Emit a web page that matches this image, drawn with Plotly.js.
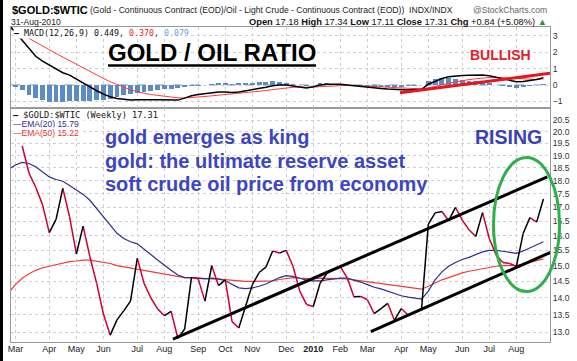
<!DOCTYPE html>
<html><head><meta charset="utf-8">
<script src="https://cdn.plot.ly/plotly-3.0.1.min.js"></script>
<style>
html,body{margin:0;padding:0;background:#fff;overflow:hidden;}
#chart{width:577px;height:361px;}
#lb{position:absolute;left:0;top:0;width:3px;height:361px;background:#000;}
</style>
</head><body><div id="chart"></div><div id="lb"></div>
<script>
// weekly bars (week of Monday)
const weeks = ['2009-02-23','2009-03-02','2009-03-09','2009-03-16','2009-03-23','2009-03-30','2009-04-06','2009-04-13','2009-04-20','2009-04-27',
'2009-05-04','2009-05-11','2009-05-18','2009-05-25','2009-06-01','2009-06-08','2009-06-15','2009-06-22','2009-06-29','2009-07-06',
'2009-07-13','2009-07-20','2009-07-27','2009-08-03','2009-08-10','2009-08-17','2009-08-24','2009-08-31','2009-09-07','2009-09-14',
'2009-09-21','2009-09-28','2009-10-05','2009-10-12','2009-10-19','2009-10-26','2009-11-02','2009-11-09','2009-11-16','2009-11-23',
'2009-11-30','2009-12-07','2009-12-14','2009-12-21','2009-12-28','2010-01-04','2010-01-11','2010-01-18','2010-01-25','2010-02-01',
'2010-02-08','2010-02-15','2010-02-22','2010-03-01','2010-03-08','2010-03-15','2010-03-22','2010-03-29','2010-04-05','2010-04-12',
'2010-04-19','2010-04-26','2010-05-03','2010-05-10','2010-05-17','2010-05-24','2010-05-31','2010-06-07','2010-06-14','2010-06-21',
'2010-06-28','2010-07-05','2010-07-12','2010-07-19','2010-07-26','2010-08-02','2010-08-09','2010-08-16','2010-08-23','2010-08-30'];

const ratio = [null,null,19.40,18.30,17.75,17.10,16.10,16.57,17.71,16.66,
15.38,16.33,15.29,14.44,13.52,12.92,13.35,13.61,13.90,15.24,
14.44,14.00,13.67,13.47,13.60,12.83,13.09,14.62,14.58,13.90,
15.00,14.37,14.55,13.30,13.12,13.75,14.40,14.78,14.95,15.48,
15.41,15.50,14.98,14.20,13.80,13.74,14.44,14.75,14.88,14.96,
14.62,14.03,14.04,13.94,13.53,13.68,13.83,13.34,13.68,13.49,
13.57,13.67,16.40,16.80,16.85,16.52,17.00,16.55,16.20,15.97,
16.81,15.90,15.35,15.10,15.07,14.98,16.07,16.63,16.47,17.31];

const ema20 = [18.45,18.62,18.72,18.68,18.55,18.35,18.15,18.05,17.98,17.82,
17.65,17.48,17.26,16.95,16.66,16.35,16.08,15.90,15.79,15.72,
15.55,15.36,15.18,15.00,14.85,14.70,14.62,14.62,14.60,14.58,
14.60,14.58,14.52,14.40,14.30,14.28,14.30,14.35,14.42,14.52,
14.62,14.68,14.66,14.60,14.54,14.52,14.52,14.55,14.58,14.60,
14.60,14.55,14.48,14.40,14.32,14.27,14.20,14.12,14.06,14.02,
13.98,13.96,14.20,14.55,14.80,14.98,15.10,15.20,15.27,15.35,
15.45,15.50,15.50,15.47,15.43,15.40,15.48,15.58,15.68,15.79];

const ema50 = [14.15,14.40,14.60,14.74,14.85,14.93,14.98,15.03,15.10,15.13,
15.15,15.18,15.18,15.15,15.12,15.07,15.00,14.96,14.93,14.90,
14.85,14.80,14.76,14.72,14.68,14.64,14.62,14.62,14.60,14.58,
14.58,14.57,14.55,14.52,14.50,14.50,14.50,14.50,14.50,14.52,
14.56,14.60,14.62,14.60,14.58,14.58,14.60,14.60,14.60,14.60,
14.58,14.55,14.52,14.48,14.45,14.42,14.40,14.37,14.34,14.30,
14.28,14.26,14.35,14.45,14.55,14.62,14.70,14.77,14.82,14.86,
14.92,14.96,14.98,15.00,15.01,15.00,15.05,15.11,15.16,15.22];

const macd = [3.70,3.20,2.72,2.20,1.75,1.45,1.20,1.00,0.75,0.60,
0.35,0.15,-0.10,-0.35,-0.55,-0.72,-0.82,-0.88,-0.92,-0.90,
-0.88,-0.90,-0.90,-0.92,-0.93,-0.92,-0.80,-0.66,-0.58,-0.52,
-0.46,-0.42,-0.42,-0.46,-0.42,-0.36,-0.30,-0.22,-0.14,-0.05,
0.00,0.00,-0.05,-0.12,-0.18,-0.10,0.00,0.05,0.05,0.04,
0.00,-0.05,-0.10,-0.14,-0.20,-0.22,-0.25,-0.28,-0.30,-0.30,
-0.28,-0.26,0.05,0.25,0.40,0.50,0.56,0.58,0.60,0.60,
0.61,0.56,0.46,0.36,0.27,0.20,0.22,0.28,0.34,0.449];

const signal = [3.50,3.25,3.02,2.85,2.60,2.38,2.15,1.92,1.70,1.47,
1.25,1.02,0.80,0.60,0.40,0.20,0.05,-0.12,-0.30,-0.42,
-0.50,-0.58,-0.64,-0.70,-0.74,-0.78,-0.79,-0.77,-0.73,-0.70,
-0.66,-0.62,-0.58,-0.56,-0.53,-0.49,-0.45,-0.40,-0.34,-0.28,
-0.22,-0.17,-0.14,-0.13,-0.14,-0.13,-0.10,-0.07,-0.04,-0.02,
-0.02,-0.03,-0.05,-0.07,-0.09,-0.12,-0.15,-0.17,-0.20,-0.22,
-0.23,-0.24,-0.18,-0.10,0.00,0.10,0.19,0.27,0.33,0.38,
0.43,0.46,0.46,0.44,0.41,0.37,0.34,0.33,0.34,0.370];

const hist = [null,-0.10,-0.30,-0.60,-0.81,-0.91,-1.06,-1.06,-1.02,-0.98,
-0.97,-0.97,-0.96,-0.93,-0.92,-0.85,-0.73,-0.62,-0.55,-0.47,
-0.42,-0.35,-0.30,-0.26,-0.22,-0.20,-0.15,-0.08,-0.03,0.03,
0.08,0.10,0.10,0.08,0.10,0.12,0.15,0.18,0.20,0.22,
0.20,0.15,0.08,0.01,-0.04,0.03,0.10,0.12,0.09,0.06,
0.02,-0.02,-0.05,-0.07,-0.11,-0.10,-0.10,-0.11,-0.10,-0.08,
-0.05,-0.02,0.23,0.35,0.40,0.40,0.37,0.31,0.27,0.22,
0.18,0.10,0.00,-0.08,-0.14,-0.17,-0.12,-0.05,0.00,0.079];

// hand-drawn trend lines (date, value)
const upperLineX = ['2009-08-11 22:00','2010-09-03 00:00'], upperLineY = [12.81,18.15];
const lowerLineX = ['2010-03-04 11:00','2010-09-08 05:00'], lowerLineY = [13.02,15.46];
const macdLineX = ['2010-04-03 16:00','2010-09-05 19:00'], macdLineY = [-0.47,0.71];

// axis ticks
const monthTicks = ['2009-03-02','2009-04-06','2009-05-04','2009-06-01','2009-07-06','2009-08-03','2009-09-07','2009-10-05','2009-11-02','2009-12-07',
'2010-01-04','2010-02-01','2010-03-01','2010-04-05','2010-05-03','2010-06-07','2010-07-05','2010-08-02'];
const monthLabels = ['Mar','Apr','May','Jun','Jul','Aug','Sep','Oct','Nov','Dec','<b>2010</b>','Feb','Mar','Apr','May','Jun','Jul','Aug'];
const priceTicks = [13.0,13.5,14.0,14.5,15.0,15.5,16.0,16.5,17.0,17.5,18.0,18.5,19.0,19.5,20.0,20.5];
const priceTickText = ['13.0','13.5','14.0','14.5','15.0','15.5','16.0','16.5','17.0','17.5','18.0','18.5','19.0','19.5','20.0','20.5'];
const macdTicks = [-1,0,1,2,3];

// split price into up (black) / down (red) segments
function segs(up){
  const xs=[], ys=[];
  for(let i=0;i<weeks.length-1;i++){
    const a=ratio[i], b=ratio[i+1];
    if(a==null||b==null) continue;
    if((b>=a)===up){ xs.push(weeks[i],weeks[i+1],null); ys.push(a,b,null); }
  }
  return {xs,ys};
}
const upS=segs(true), dnS=segs(false);

const L=11, R=550, T=27, B=342;
const px = v => (v-L)/(R-L);
const py = v => (B-v)/(B-T);
const split = py(108);

const F='Liberation Sans, Arial, sans-serif';
const M='DejaVu Sans Mono, monospace';

const traces = [
  {type:'bar', x:weeks, y:hist, xaxis:'x2', yaxis:'y2', width:5*864e5, marker:{color:'#5b8cc8', line:{width:0}}, hoverinfo:'skip'},
  {type:'scatter', mode:'lines', x:weeks, y:signal, xaxis:'x2', yaxis:'y2', line:{color:'#ff3b3b', width:1}},
  {type:'scatter', mode:'lines', x:weeks, y:macd, xaxis:'x2', yaxis:'y2', line:{color:'#000', width:1.5}},
  {type:'scatter', mode:'lines', x:macdLineX, y:macdLineY, xaxis:'x2', yaxis:'y2', line:{color:'#e8141e', width:3}},
  {type:'scatter', mode:'lines', x:weeks, y:ema50, line:{color:'#f03c3c', width:1.2}},
  {type:'scatter', mode:'lines', x:weeks, y:ema20, line:{color:'#2c2f8e', width:1.2}},
  {type:'scatter', mode:'lines', x:dnS.xs, y:dnS.ys, line:{color:'#cc0033', width:1.5}, connectgaps:false},
  {type:'scatter', mode:'lines', x:upS.xs, y:upS.ys, line:{color:'#000', width:1.5}, connectgaps:false},
  {type:'scatter', mode:'lines', x:upperLineX, y:upperLineY, line:{color:'#000', width:3}},
  {type:'scatter', mode:'lines', x:lowerLineX, y:lowerLineY, line:{color:'#000', width:3}}
];

const grid = {showgrid:true, gridcolor:'#cfcfcf', griddash:'dot', gridwidth:1, showline:true, linecolor:'#999', linewidth:1, mirror:true, zeroline:false, ticks:''};
const xr = ['2009-02-25 10:00','2010-09-05 19:00'];

const ann = (text, x, y, opt={}) => Object.assign({text, x:px(x), y:py(y), xref:'paper', yref:'paper', showarrow:false, xanchor:'left', yanchor:'middle', font:{family:F, size:9, color:'#000'}, borderpad:0}, opt);

const annotations = [
  ann('<b>$GOLD:$WTIC</b>', 11, 10, {font:{family:F, size:11, color:'#000'}}),
  ann('(Gold - Continuous Contract (EOD)/Oil - Light Crude - Continuous Contract (EOD))  INDX/INDX', 89, 10.5, {font:{family:F, size:8.6, color:'#222'}}),
  ann('@StockCharts.com', 548, 10.5, {xanchor:'right', font:{family:F, size:8.6, color:'#666'}}),
  ann('31-Aug-2010', 10, 22, {font:{family:F, size:8.6, color:'#222'}}),
  ann('<b>Open</b> 17.18 <b>High</b> 17.34 <b>Low</b> 17.11 <b>Close</b> 17.31 <b>Chg</b> +0.84 (+5.08%) <span style="color:#2a9a2a">▲</span>', 548, 22, {xanchor:'right', font:{family:F, size:9.3, color:'#111'}}),
  ann('<b>—</b> MACD(12,26,9) 0.449, <span style="color:#ee2222">0.370</span>, <span style="color:#6a9fd8">0.079</span>', 13, 33, {font:{family:M, size:8.3, color:'#111'}, bgcolor:'#fff'}),
  ann('<b>—</b> $GOLD:$WTIC (Weekly) 17.31', 12, 114.5, {font:{family:M, size:8.6, color:'#111'}, bgcolor:'#fff'}),
  ann('—EMA(20) 15.79', 12, 123.5, {font:{family:F, size:8.5, color:'#2c2f8e'}, bgcolor:'#fff'}),
  ann('—EMA(50) 15.22', 12, 133, {font:{family:F, size:8.5, color:'#e83030'}, bgcolor:'#fff'}),
  ann('<b>GOLD / OIL RATIO</b>', 107, 52.5, {font:{family:F, size:24, color:'#000'}}),
  ann('<b>BULLISH</b>', 469, 54.5, {font:{family:F, size:14, color:'#e0202a'}}),
  ann('<b>RISING</b>', 474, 136.5, {font:{family:F, size:19.5, color:'#3b40b8'}}),
  ann('<b>gold emerges as king</b>', 104, 137, {font:{family:F, size:20, color:'#3d45c5'}}),
  ann('<b>gold: the ultimate reserve asset</b>', 104, 161, {font:{family:F, size:20, color:'#3d45c5'}}),
  ann('<b>soft crude oil price from economy</b>', 104, 184, {font:{family:F, size:20, color:'#3d45c5'}})
];

const shapes = [
  {type:'line', xref:'paper', yref:'y2', x0:0, x1:1, y0:0, y1:0, line:{color:'#6a93c9', width:1, dash:'dash'}, layer:'below'},
  {type:'line', xref:'paper', yref:'paper', x0:px(108), x1:px(316), y0:py(65.5), y1:py(65.5), line:{color:'#000', width:2.5}},
  {type:'circle', xref:'paper', yref:'paper', x0:px(493.5), x1:px(559.5), y0:py(291.5), y1:py(157.5), line:{color:'#2db04b', width:3}}
];

const layout = {
  width:577, height:361, margin:{l:L, r:577-R, t:T, b:361-B, pad:0},
  paper_bgcolor:'#fff', plot_bgcolor:'#fff', showlegend:false, bargap:0,
  font:{family:F, size:9, color:'#222'},
  xaxis: Object.assign({}, grid, {type:'date', range:xr, anchor:'y', domain:[0,1], tickmode:'array', tickvals:monthTicks, ticktext:monthLabels, ticklabelstandoff:-2, tickfont:{family:F, size:9, color:'#222'}}),
  xaxis2: Object.assign({}, grid, {type:'date', range:xr, matches:'x', anchor:'y2', domain:[0,1], tickmode:'array', tickvals:monthTicks, showticklabels:false}),
  yaxis: Object.assign({}, grid, {type:'log', domain:[0,split], range:[Math.log10(12.731), Math.log10(21.044)], side:'right', tickmode:'array', tickvals:priceTicks, ticktext:priceTickText, tickfont:{family:F, size:8.6, color:'#333'}}),
  yaxis2: Object.assign({}, grid, {domain:[split,1], range:[-1.402,3.537], side:'right', anchor:'x2', tickmode:'array', tickvals:macdTicks, tickfont:{family:F, size:8.6, color:'#333'}}),
  annotations, shapes
};
layout.yaxis.anchor='x';

Plotly.newPlot('chart', traces, layout, {staticPlot:true, displayModeBar:false});
</script>
</body></html>
